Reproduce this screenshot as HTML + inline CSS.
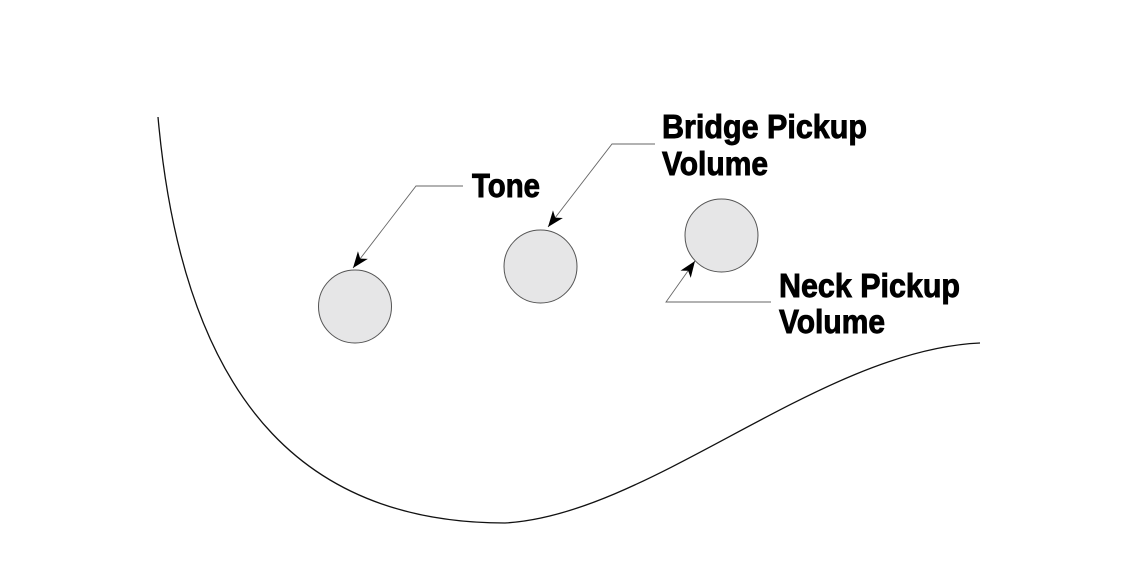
<!DOCTYPE html>
<html>
<head>
<meta charset="utf-8">
<style>
  html,body{margin:0;padding:0;background:#fff;}
  svg{display:block;}
  text{font-family:"Liberation Sans",Arial,sans-serif;font-weight:bold;fill:#000;stroke:#000;stroke-width:0.9;}
</style>
</head>
<body>
<svg width="1140" height="570" viewBox="0 0 1140 570" xmlns="http://www.w3.org/2000/svg">
  <defs>
    <marker id="ah" markerUnits="userSpaceOnUse" markerWidth="20" markerHeight="20" viewBox="-14 -7 16 14" refX="0" refY="0" orient="auto">
      <path d="M0,0 L-13,-5 L-9.5,0 L-13,5 Z" fill="#000"/>
    </marker>
  </defs>
  <rect width="1140" height="570" fill="#fff"/>

  <!-- body outline -->
  <path d="M158,117 C185,420 320,523 505,523 C650,515 820,350 980,343" fill="none" stroke="#111" stroke-width="1.3"/>

  <!-- knobs -->
  <circle cx="355" cy="306.5" r="36.5" fill="#e6e6e7" stroke="#555" stroke-width="1"/>
  <circle cx="540.5" cy="266.5" r="36.5" fill="#e6e6e7" stroke="#555" stroke-width="1"/>
  <circle cx="721.5" cy="235.5" r="36.5" fill="#e6e6e7" stroke="#555" stroke-width="1"/>

  <!-- leaders -->
  <polyline points="463,186 416,186 353,268" fill="none" stroke="#666" stroke-width="0.9" marker-end="url(#ah)"/>
  <polyline points="655,144 612,144 548,227" fill="none" stroke="#666" stroke-width="0.9" marker-end="url(#ah)"/>
  <polyline points="771,302 666,302 695,261" fill="none" stroke="#666" stroke-width="0.9" marker-end="url(#ah)"/>

  <!-- labels -->
  <text x="472" y="197" font-size="33" textLength="68" lengthAdjust="spacingAndGlyphs">Tone</text>
  <text x="662" y="138" font-size="33" textLength="205" lengthAdjust="spacingAndGlyphs">Bridge Pickup</text>
  <text x="662" y="175" font-size="33" textLength="106" lengthAdjust="spacingAndGlyphs">Volume</text>
  <text x="779" y="297" font-size="33" textLength="181" lengthAdjust="spacingAndGlyphs">Neck Pickup</text>
  <text x="779" y="333" font-size="33" textLength="106" lengthAdjust="spacingAndGlyphs">Volume</text>
</svg>
</body>
</html>
